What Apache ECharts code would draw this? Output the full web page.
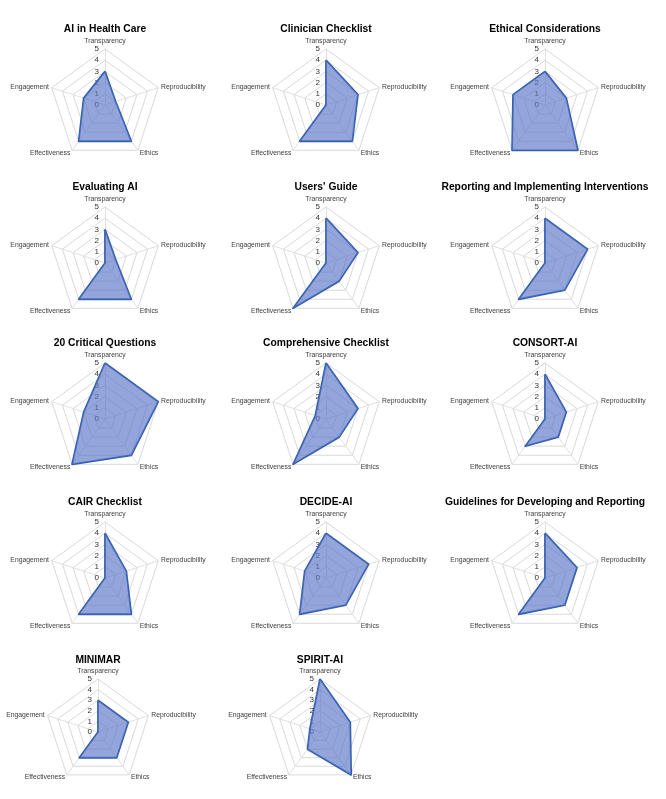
<!DOCTYPE html>
<html>
<head>
<meta charset="utf-8">
<script src="https://cdn.jsdelivr.net/npm/echarts@6/dist/echarts.min.js"></script>
<style>
html,body{margin:0;padding:0;background:#fff;}
#chart{width:666px;height:799px;}
</style>
</head>
<body>
<div id="chart"></div>
<script>
// Indicator order as drawn by ECharts (counter-clockwise from top)
const categories = ['Transparency', 'Engagement', 'Effectiveness', 'Ethics', 'Reproducibility'];
const axisMax = 5;
const tickLabels = ['0', '1', '2', '3', '4', '5'];

const titles = [
  'AI in Health Care', 'Clinician Checklist', 'Ethical Considerations',
  'Evaluating AI', "Users' Guide", 'Reporting and Implementing Interventions',
  '20 Critical Questions', 'Comprehensive Checklist', 'CONSORT-AI',
  'CAIR Checklist', 'DECIDE-AI', 'Guidelines for Developing and Reporting',
  'MINIMAR', 'SPIRIT-AI'
];

// values in categories order: Transparency, Engagement, Effectiveness, Ethics, Reproducibility
const aiInHealthCare        = [3, 2, 4, 4, 1];
const clinicianChecklist    = [4, 0, 4, 4, 3];
const ethicalConsiderations = [3, 3, 5, 5, 2];
const evaluatingAI          = [3, 0, 4, 4, 1];
const usersGuide            = [4, 0, 5, 2, 3];
const reportingImplementing = [4, 0, 4, 3, 4];
const criticalQuestions20   = [5, 2, 5, 4, 5];
const comprehensiveChecklist= [5, 1, 5, 2, 3];
const consortAI             = [4, 0, 3, 2, 2];
const cairChecklist         = [4, 0, 4, 4, 2];
const decideAI              = [4, 2, 4, 3, 4];
const guidelinesDevReport   = [4, 0, 4, 3, 3];
const minimar               = [3, 0, 3, 3, 3];
const spiritAI              = [5, 1, 2, 5, 3];

const seriesValues = [
  aiInHealthCare, clinicianChecklist, ethicalConsiderations,
  evaluatingAI, usersGuide, reportingImplementing,
  criticalQuestions20, comprehensiveChecklist, consortAI,
  cairChecklist, decideAI, guidelinesDevReport,
  minimar, spiritAI
];

const colX = [105, 326, 545];
const lastRowX = [98, 320];
const rowY = [105, 263, 419, 578, 732];

const radars = [], series = [], titleOpts = [];
titles.forEach(function (t, i) {
  const row = Math.floor(i / 3);
  const last = row === 4;
  const cx = last ? lastRowX[i % 3] : colX[i % 3];
  const cy = rowY[row];
  const R = last ? 53 : 56;
  titleOpts.push({
    text: t, left: cx, top: cy - (last ? 77 : 81), textAlign: 'center', padding: 0,
    textStyle: {fontFamily: 'Liberation Sans', fontWeight: 'bold', fontSize: 10.3, color: '#000'}
  });
  radars.push({
    center: [cx, cy], radius: R, startAngle: 90, splitNumber: 5, shape: 'polygon',
    indicator: categories.map(function (c, k) {
      const ind = {name: c, min: 0, max: axisMax};
      if (k !== 0) ind.axisLabel = {show: false};
      return ind;
    }),
    axisName: {color: '#404040', fontSize: 6.8, fontFamily: 'Liberation Sans'},
    nameGap: 3,
    axisLine: {lineStyle: {color: '#e0e0e0', width: 1}},
    splitLine: {lineStyle: {color: '#d9d9d9', width: 1}},
    splitArea: {show: false},
    axisTick: {show: false},
    axisLabel: {
      show: true, color: '#333', fontSize: 8, fontFamily: 'Liberation Sans', margin: 6,
      showMinLabel: true, showMaxLabel: true,
      formatter: function (v) { return tickLabels[Math.round(v)]; }
    }
  });
  series.push({
    type: 'radar', radarIndex: i, symbol: 'none', silent: true,
    lineStyle: {color: '#2f5ea9', width: 1.8},
    areaStyle: {color: '#5b74c8', opacity: 0.65},
    data: [{value: seriesValues[i], name: t}]
  });
});

const chart = echarts.init(document.getElementById('chart'), null, {renderer: 'canvas'});
chart.setOption({
  animation: false,
  backgroundColor: '#fff',
  title: titleOpts,
  radar: radars,
  series: series
});
</script>
</body>
</html>
